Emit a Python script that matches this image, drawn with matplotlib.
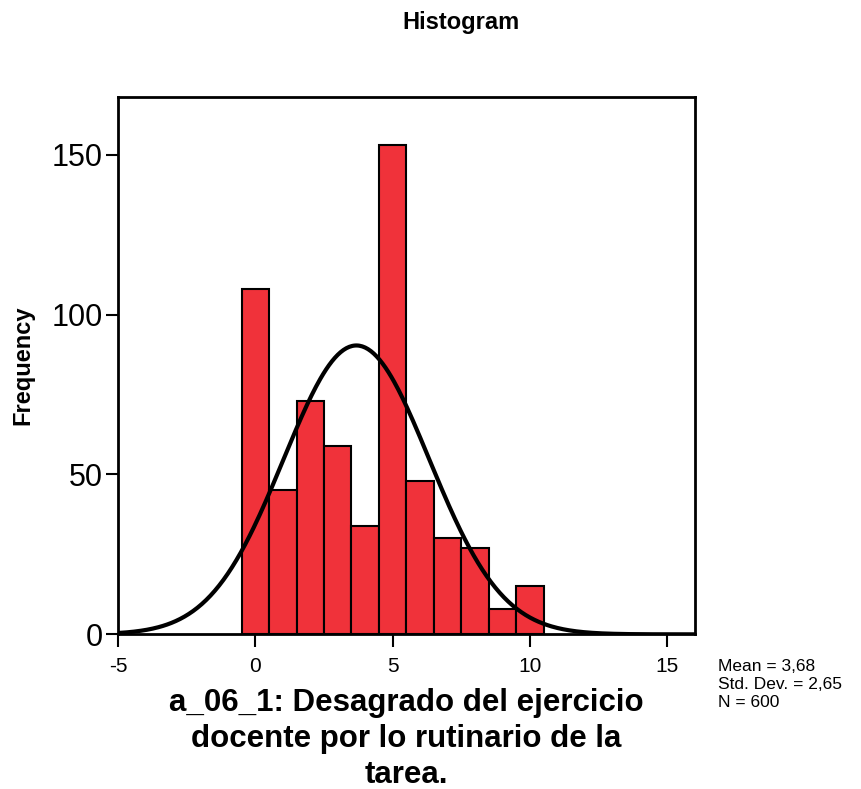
import numpy as np
import matplotlib
matplotlib.use("Agg")
import matplotlib.pyplot as plt

# frecuencias por valor (0..10)
valores = [0, 1, 2, 3, 4, 5, 6, 7, 8, 9, 10]
frecuencias = [108, 45, 73, 59, 34, 153, 48, 30, 27, 8, 15]
media = 3.68
desv = 2.65
n = 600

plt.rcParams['font.family'] = ['Liberation Sans', 'DejaVu Sans']
plt.rcParams['axes.unicode_minus'] = False

fig = plt.figure(figsize=(8.61, 7.89), dpi=100)
ax = fig.add_axes([0.137, 0.196, 0.670, 0.681])

ax.bar(valores, frecuencias, width=1.0, color='#F0323A', edgecolor='black', linewidth=1.5)

x = np.linspace(-5, 16, 400)
y = n * 1.0 / (desv * np.sqrt(2 * np.pi)) * np.exp(-0.5 * ((x - media) / desv) ** 2)
ax.plot(x, y, color='black', linewidth=3)

ax.set_xlim(-5, 16)
ax.set_ylim(0, 168)
ax.set_xticks([-5, 0, 5, 10, 15])
ax.set_yticks([0, 50, 100, 150])
ax.tick_params(axis='x', direction='out', length=9, width=1.5, labelsize=15, pad=7)
ax.tick_params(axis='y', direction='out', length=9, width=1.5, labelsize=22, pad=2)
for s in ax.spines.values():
    s.set_linewidth(2)

ax.set_ylabel('Frequency', fontsize=17, fontweight='bold', labelpad=12)
ax.set_xlabel('a_06_1: Desagrado del ejercicio\ndocente por lo rutinario de la\ntarea.',
              fontsize=22.5, fontweight='bold', linespacing=1.25, labelpad=9)
fig.text(0.535, 0.972, 'Histogram', ha='center', va='center', fontsize=17, fontweight='bold')
fig.text(0.834, 0.132, 'Mean = 3,68\nStd. Dev. = 2,65\nN = 600', ha='left', va='center',
         fontsize=12.5, linespacing=1.25)

fig.savefig('out.png', dpi=100)
